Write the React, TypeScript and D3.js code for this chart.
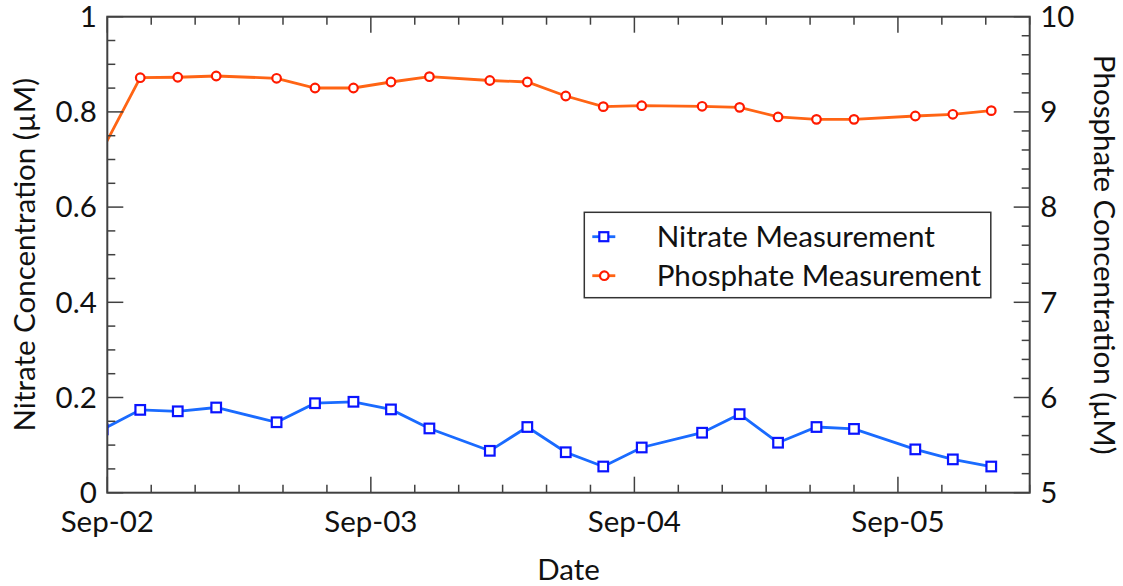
import React from 'react';
import * as d3 from 'd3';

// sample times (first one sits just before the axis and is clipped)
const sampleTimes = [
  '2005-09-01T23:35', '2005-09-02T03:00', '2005-09-02T06:25', '2005-09-02T09:55',
  '2005-09-02T15:25', '2005-09-02T18:55', '2005-09-02T22:25', '2005-09-03T01:50',
  '2005-09-03T05:20', '2005-09-03T10:50', '2005-09-03T14:15', '2005-09-03T17:45',
  '2005-09-03T21:10', '2005-09-04T00:40', '2005-09-04T06:10', '2005-09-04T09:35',
  '2005-09-04T13:05', '2005-09-04T16:35', '2005-09-04T20:00', '2005-09-05T01:35',
  '2005-09-05T05:00', '2005-09-05T08:30',
];
const nitrate = [
  0.133, 0.174, 0.171, 0.179, 0.148, 0.188, 0.191, 0.175, 0.135, 0.088, 0.138,
  0.085, 0.055, 0.095, 0.126, 0.165, 0.105, 0.138, 0.134, 0.091, 0.070, 0.055,
];
const phosphate = [
  8.61, 9.359, 9.364, 9.377, 9.353, 9.251, 9.251, 9.314, 9.37, 9.33, 9.314,
  9.167, 9.055, 9.065, 9.059, 9.048, 8.947, 8.922, 8.922, 8.957, 8.975, 9.013,
];
const leftTicks = [0, 0.2, 0.4, 0.6, 0.8, 1];
const rightTicks = [5, 6, 7, 8, 9, 10];
const seriesNames = ['Nitrate Measurement', 'Phosphate Measurement'];

const parseTime = d3.timeParse('%Y-%m-%dT%H:%M');
const formatDay = d3.timeFormat('%b-%d');

const W = 1123;
const H = 586;
const margin = { top: 16.7, right: 93.3, bottom: 93.3, left: 107.3 };
const FONT = 'Lato, "Open Sans", sans-serif';
const AXIS = '#404040';

const App = () => {
  const innerW = W - margin.left - margin.right;
  const innerH = H - margin.top - margin.bottom;
  const dates = sampleTimes.map((s) => parseTime(s) as Date);

  const x = d3
    .scaleTime()
    .domain([parseTime('2005-09-02T00:00') as Date, parseTime('2005-09-05T12:00') as Date])
    .range([0, innerW]);
  const yN = d3.scaleLinear().domain([0, 1]).range([innerH, 0]);
  const yP = d3.scaleLinear().domain([5, 10]).range([innerH, 0]);

  const dayTicks = x.ticks(d3.timeDay.every(1) as d3.CountableTimeInterval);
  const hourTicks = x.ticks(d3.timeHour.every(4) as d3.CountableTimeInterval);
  const leftMinor = d3.range(0, 1.0001, 0.05);
  const rightMinor = d3.range(5, 10.0001, 0.2);

  const nitrateLine = d3
    .line<number>()
    .x((d, i) => x(dates[i]))
    .y((d) => yN(d));
  const phosphateLine = d3
    .line<number>()
    .x((d, i) => x(dates[i]))
    .y((d) => yP(d));

  const blueLine = '#1a6bff';
  const blueMark = '#0a14ff';
  const orangeLine = '#ff6414';
  const redMark = '#ff1a00';

  // legend box
  const lg = { x: 584.3 - margin.left, y: 212.3 - margin.top, w: 406.5, h: 85.4 };

  return (
    <svg
      width={W}
      height={H}
      style={{ position: 'absolute', left: 0, top: 0, background: '#fff' }}
      fontFamily={FONT}
    >
      <defs>
        <clipPath id="plotClip">
          <rect x={0} y={0} width={innerW} height={innerH} />
        </clipPath>
      </defs>
      <g transform={'translate(' + margin.left + ',' + margin.top + ')'}>
        {/* data */}
        <g clipPath="url(#plotClip)">
          <path d={phosphateLine(phosphate) || ''} fill="none" stroke={orangeLine} strokeWidth={2.8} />
          <path d={nitrateLine(nitrate) || ''} fill="none" stroke={blueLine} strokeWidth={2.8} />
          {phosphate.map((d, i) => (
            <circle key={'p' + i} cx={x(dates[i])} cy={yP(d)} r={4.3} fill="#fff" stroke={redMark} strokeWidth={2.2} />
          ))}
          {nitrate.map((d, i) => (
            <rect
              key={'n' + i}
              x={x(dates[i]) - 4.8}
              y={yN(d) - 4.8}
              width={9.6}
              height={9.6}
              fill="#fff"
              stroke={blueMark}
              strokeWidth={2.2}
            />
          ))}
        </g>

        {/* bottom & top axis ticks */}
        {hourTicks.map((t, i) => {
          const major = t.getHours() === 0;
          const len = major ? 16 : 8;
          return (
            <g key={'xt' + i} stroke={AXIS} strokeWidth={1.5}>
              <line x1={x(t)} x2={x(t)} y1={innerH} y2={innerH - len} />
              <line x1={x(t)} x2={x(t)} y1={0} y2={len} />
            </g>
          );
        })}
        {dayTicks.map((t, i) => (
          <text key={'xl' + i} x={x(t)} y={innerH + 39} textAnchor="middle" fontSize={29.5} fill="#111">
            {formatDay(t)}
          </text>
        ))}

        {/* left axis ticks */}
        {leftMinor.map((v, i) => {
          const major = i % 4 === 0;
          return (
            <line key={'ly' + i} x1={0} x2={major ? 16 : 8} y1={yN(v)} y2={yN(v)} stroke={AXIS} strokeWidth={1.5} />
          );
        })}
        {leftTicks.map((v, i) => (
          <text key={'ll' + i} x={-10.5} y={yN(v)} dy="0.35em" textAnchor="end" fontSize={29.5} fill="#111">
            {d3.format('~g')(v)}
          </text>
        ))}

        {/* right axis ticks */}
        {rightMinor.map((v, i) => {
          const major = i % 5 === 0;
          return (
            <line
              key={'ry' + i}
              x1={innerW}
              x2={innerW - (major ? 16 : 8)}
              y1={yP(v)}
              y2={yP(v)}
              stroke={AXIS}
              strokeWidth={1.5}
            />
          );
        })}
        {rightTicks.map((v, i) => (
          <text key={'rl' + i} x={innerW + 10.5} y={yP(v)} dy="0.35em" textAnchor="start" fontSize={29.5} fill="#111">
            {v}
          </text>
        ))}

        {/* frame */}
        <rect x={0} y={0} width={innerW} height={innerH} fill="none" stroke={AXIS} strokeWidth={2} />

        {/* legend */}
        <g transform={'translate(' + lg.x + ',' + lg.y + ')'}>
          <rect x={0} y={0} width={lg.w} height={lg.h} fill="#fff" stroke="#333" strokeWidth={1.5} />
          <g transform="translate(0,24.4)">
            <line x1={8} x2={31} y1={0} y2={0} stroke={blueLine} strokeWidth={2.8} />
            <rect x={15} y={-4.5} width={9} height={9} fill="#fff" stroke={blueMark} strokeWidth={2.2} />
            <text x={72.4} y={0} dy="0.35em" fontSize={29.6} fill="#111">{seriesNames[0]}</text>
          </g>
          <g transform="translate(0,63.4)">
            <line x1={8} x2={31} y1={0} y2={0} stroke={orangeLine} strokeWidth={2.8} />
            <circle cx={20} cy={0} r={4.3} fill="#fff" stroke={redMark} strokeWidth={2.2} />
            <text x={72.4} y={0} dy="0.35em" fontSize={29.6} fill="#111">{seriesNames[1]}</text>
          </g>
        </g>
      </g>

      {/* axis titles */}
      <text x={(margin.left + W - margin.right) / 2} y={580} textAnchor="middle" fontSize={29.5} fill="#111">
        Date
      </text>
      <text
        transform={'translate(35,' + (margin.top + innerH / 2) + ') rotate(-90)'}
        textAnchor="middle"
        fontSize={29.5}
        fill="#111"
      >
        Nitrate Concentration (µM)
      </text>
      <text
        transform={'translate(1094,' + (margin.top + innerH / 2) + ') rotate(90)'}
        textAnchor="middle"
        fontSize={29.5}
        fill="#111"
      >
        Phosphate Concentration (µM)
      </text>
    </svg>
  );
};

export default App;
